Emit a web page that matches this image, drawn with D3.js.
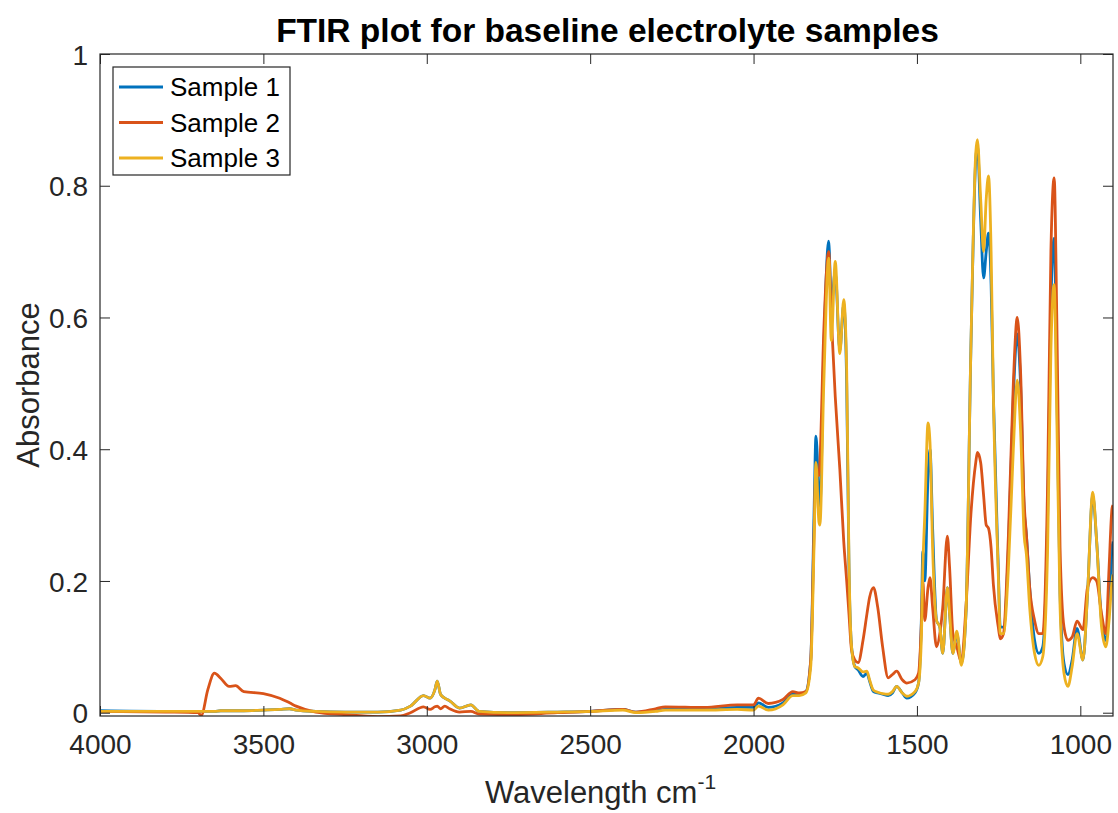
<!DOCTYPE html>
<html>
<head>
<meta charset="utf-8">
<script src="https://cdn.jsdelivr.net/npm/d3@7"></script>
<style>
  html, body { margin: 0; padding: 0; background: #ffffff; }
  svg { display: block; font-family: "Liberation Sans", Arial, Helvetica, sans-serif; }
</style>
</head>
<body>
<svg id="chart" width="1118" height="813"></svg>
<script>
// ---- Data ----
const seriesNames = ["Sample 1", "Sample 2", "Sample 3"];
const seriesColors = ["#0072BD", "#D95319", "#EDB120"];

const wavenumbers = [
  4000, 3800, 3700, 3690, 3670, 3650, 3630, 3605, 3585, 3560,
  3500, 3450, 3420, 3400, 3340, 3250, 3150, 3080, 3050, 3010,
  2990, 2975, 2968, 2958, 2945, 2930, 2900, 2865, 2840, 2750,
  2600, 2500, 2400, 2360, 2300, 2270, 2150, 2050, 2000, 1985,
  1955, 1910, 1880, 1860, 1840, 1825, 1815, 1809, 1800, 1797,
  1785, 1770, 1762, 1750, 1736, 1724, 1715, 1708, 1700, 1690,
  1680, 1665, 1653, 1645, 1633, 1620, 1605, 1588, 1575, 1562,
  1545, 1531, 1506, 1495, 1486, 1482, 1476, 1466, 1460, 1452,
  1440, 1430, 1421, 1407, 1400, 1390, 1378, 1364, 1350, 1335,
  1320, 1315, 1305, 1296, 1288, 1281, 1273, 1266, 1251, 1245,
  1235, 1220, 1205, 1193, 1183, 1172, 1165, 1155, 1140, 1127,
  1115, 1100, 1090, 1080, 1072, 1062, 1050, 1038, 1025, 1010,
  992, 978, 962, 950, 935, 922, 912, 903, 900
];

const sample1 = [
  0.003, 0.002, 0.002, 0.002, 0.002, 0.002, 0.003, 0.003, 0.003, 0.003,
  0.004, 0.005, 0.006, 0.004, 0.002, 0.001, 0.001, 0.004, 0.010, 0.026,
  0.022, 0.035, 0.048, 0.028, 0.022, 0.018, 0.007, 0.012, 0.002, 0.000,
  0.001, 0.002, 0.005, 0.001, 0.003, 0.005, 0.005, 0.008, 0.008, 0.015,
  0.008, 0.015, 0.028, 0.028, 0.032, 0.080, 0.300, 0.420, 0.330, 0.310,
  0.550, 0.716, 0.620, 0.670, 0.550, 0.620, 0.500, 0.220, 0.100, 0.070,
  0.065, 0.055, 0.060, 0.048, 0.032, 0.030, 0.028, 0.026, 0.030, 0.040,
  0.030, 0.022, 0.030, 0.045, 0.150, 0.245, 0.200, 0.360, 0.400, 0.280,
  0.140, 0.130, 0.090, 0.190, 0.150, 0.090, 0.120, 0.075, 0.150, 0.550,
  0.840, 0.860, 0.750, 0.660, 0.700, 0.728, 0.650, 0.480, 0.220, 0.130,
  0.130, 0.250, 0.480, 0.575, 0.500, 0.310, 0.270, 0.190, 0.110, 0.090,
  0.100, 0.300, 0.620, 0.720, 0.500, 0.180, 0.075, 0.058, 0.080, 0.128,
  0.080, 0.180, 0.330, 0.260, 0.140, 0.110, 0.160, 0.250, 0.260
];

const sample2 = [
  0.002, 0.001, 0.000, -0.004, 0.035, 0.060, 0.052, 0.040, 0.041, 0.032,
  0.029, 0.022, 0.015, 0.010, 0.001, -0.003, -0.006, -0.005, 0.000, 0.009,
  0.005, 0.009, 0.010, 0.006, 0.010, 0.006, 0.001, 0.002, -0.002, -0.003,
  0.000, 0.002, 0.005, 0.001, 0.006, 0.009, 0.008, 0.012, 0.012, 0.022,
  0.014, 0.020, 0.032, 0.030, 0.032, 0.080, 0.270, 0.370, 0.360, 0.380,
  0.580, 0.700, 0.600, 0.480, 0.370, 0.260, 0.200, 0.150, 0.095, 0.080,
  0.076, 0.110, 0.150, 0.175, 0.190, 0.160, 0.100, 0.053, 0.058, 0.063,
  0.050, 0.045, 0.050, 0.060, 0.140, 0.200, 0.140, 0.190, 0.205, 0.160,
  0.100, 0.120, 0.160, 0.268, 0.220, 0.120, 0.100, 0.077, 0.160, 0.300,
  0.380, 0.395, 0.380, 0.330, 0.285, 0.280, 0.250, 0.194, 0.130, 0.112,
  0.120, 0.270, 0.500, 0.600, 0.520, 0.320, 0.270, 0.190, 0.140, 0.120,
  0.120, 0.350, 0.700, 0.812, 0.600, 0.250, 0.130, 0.110, 0.115, 0.139,
  0.126, 0.190, 0.205, 0.200, 0.150, 0.120, 0.220, 0.310, 0.315
];

const sample3 = [
  0.002, 0.002, 0.002, 0.002, 0.002, 0.002, 0.003, 0.003, 0.003, 0.003,
  0.004, 0.005, 0.006, 0.004, 0.002, 0.001, 0.001, 0.004, 0.010, 0.026,
  0.022, 0.035, 0.048, 0.028, 0.022, 0.018, 0.007, 0.012, 0.002, 0.000,
  0.001, 0.002, 0.004, 0.000, 0.002, 0.004, 0.004, 0.005, 0.004, 0.010,
  0.004, 0.012, 0.026, 0.026, 0.030, 0.070, 0.250, 0.380, 0.290, 0.285,
  0.500, 0.690, 0.565, 0.685, 0.545, 0.627, 0.520, 0.230, 0.100, 0.070,
  0.068, 0.062, 0.063, 0.050, 0.034, 0.031, 0.029, 0.028, 0.032, 0.040,
  0.030, 0.025, 0.032, 0.045, 0.120, 0.220, 0.300, 0.440, 0.410, 0.250,
  0.140, 0.130, 0.090, 0.190, 0.150, 0.090, 0.124, 0.072, 0.150, 0.550,
  0.850, 0.870, 0.780, 0.700, 0.780, 0.815, 0.700, 0.480, 0.210, 0.120,
  0.120, 0.220, 0.400, 0.505, 0.430, 0.270, 0.240, 0.160, 0.090, 0.072,
  0.085, 0.250, 0.550, 0.650, 0.450, 0.160, 0.060, 0.040, 0.070, 0.120,
  0.080, 0.180, 0.335, 0.260, 0.130, 0.100, 0.140, 0.200, 0.210
];

const seriesValues = [sample1, sample2, sample3];

const xTicks = [4000, 3500, 3000, 2500, 2000, 1500, 1000];
const xTickLabels = ["4000", "3500", "3000", "2500", "2000", "1500", "1000"];
const yTicks = [0, 0.2, 0.4, 0.6, 0.8, 1];
const yTickLabels = ["0", "0.2", "0.4", "0.6", "0.8", "1"];

const titleText = "FTIR plot for baseline electrolyte samples";
const xLabelText = "Wavelength cm";
const xLabelSup = "-1";
const yLabelText = "Absorbance";

// ---- Layout ----
const M = { left: 100, right: 1113, top: 54, bottom: 716 };
const axisColor = "#262626";

const svg = d3.select("#chart");

const x = d3.scaleLinear().domain([4000, 900]).range([M.left, M.right]);
const y = d3.scaleLinear().domain([-0.005, 1]).range([M.bottom, M.top]);

// lines
const line = d3.line()
  .x((d, i) => x(wavenumbers[i]))
  .y(d => y(d))
  .curve(d3.curveMonotoneX);

const defs = svg.append("defs");
defs.append("clipPath").attr("id", "clip")
  .append("rect").attr("x", M.left).attr("y", M.top)
  .attr("width", M.right - M.left).attr("height", M.bottom - M.top);

const linesG = svg.append("g").attr("clip-path", "url(#clip)");
seriesValues.forEach((vals, k) => {
  linesG.append("path")
    .datum(vals)
    .attr("fill", "none")
    .attr("stroke", seriesColors[k])
    .attr("stroke-width", 2.8)
    .attr("stroke-linejoin", "round")
    .attr("d", line);
});

// axes (ticks inward, box)
const tickLen = 10;
const tickFont = 28;

const xAxisB = d3.axisBottom(x).tickValues(xTicks).tickSizeInner(-tickLen).tickSizeOuter(0).tickPadding(18)
  .tickFormat((d, i) => xTickLabels[i]);
const gxb = svg.append("g").attr("transform", `translate(0,${M.bottom})`).call(xAxisB);
const xAxisT = d3.axisTop(x).tickValues(xTicks).tickSizeInner(-tickLen).tickSizeOuter(0).tickFormat("");
const gxt = svg.append("g").attr("transform", `translate(0,${M.top})`).call(xAxisT);

const yAxisL = d3.axisLeft(y).tickValues(yTicks).tickSizeInner(-tickLen).tickSizeOuter(0).tickPadding(12)
  .tickFormat((d, i) => yTickLabels[i]);
const gyl = svg.append("g").attr("transform", `translate(${M.left},0)`).call(yAxisL);
const yAxisR = d3.axisRight(y).tickValues(yTicks).tickSizeInner(-tickLen).tickSizeOuter(0).tickFormat("");
const gyr = svg.append("g").attr("transform", `translate(${M.right},0)`).call(yAxisR);

[gxb, gxt, gyl, gyr].forEach(g => {
  g.select(".domain").remove();
  g.selectAll(".tick line").attr("stroke", axisColor).attr("stroke-width", 1);
  g.selectAll(".tick text")
    .attr("fill", axisColor)
    .style("font-size", tickFont + "px")
    .style("font-family", "'Liberation Sans', Arial, sans-serif");
});
gxb.selectAll(".tick text").attr("dy", "0.71em");
gyl.selectAll(".tick text").attr("dy", "0.36em");

// box
svg.append("rect")
  .attr("x", M.left).attr("y", M.top)
  .attr("width", M.right - M.left).attr("height", M.bottom - M.top)
  .attr("fill", "none").attr("stroke", axisColor).attr("stroke-width", 1.2);

// title
svg.append("text")
  .attr("x", (M.left + M.right) / 2 + 1).attr("y", 42)
  .attr("text-anchor", "middle")
  .style("font-size", "33.5px").style("font-weight", "bold")
  .attr("fill", "#000")
  .text(titleText);

// x label
const xl = svg.append("text")
  .attr("x", (M.left + M.right) / 2 - 6).attr("y", 803)
  .attr("text-anchor", "middle")
  .style("font-size", "31px")
  .attr("fill", axisColor);
xl.append("tspan").text(xLabelText);
xl.append("tspan").attr("dy", -14).style("font-size", "21px").text(xLabelSup);

// y label
svg.append("text")
  .attr("transform", `translate(39,${(M.top + M.bottom) / 2}) rotate(-90)`)
  .attr("text-anchor", "middle")
  .style("font-size", "31px")
  .attr("fill", axisColor)
  .text(yLabelText);

// legend
const lg = svg.append("g");
lg.append("rect")
  .attr("x", 113).attr("y", 67).attr("width", 177).attr("height", 108)
  .attr("fill", "#fff").attr("stroke", axisColor).attr("stroke-width", 1.2);
seriesNames.forEach((name, k) => {
  const cy = 87 + k * 35.5;
  lg.append("line")
    .attr("x1", 119).attr("x2", 163).attr("y1", cy).attr("y2", cy)
    .attr("stroke", seriesColors[k]).attr("stroke-width", 2.8);
  lg.append("text")
    .attr("x", 170).attr("y", cy).attr("dy", "0.36em")
    .style("font-size", "26px").attr("fill", "#000")
    .text(name);
});
</script>
</body>
</html>
